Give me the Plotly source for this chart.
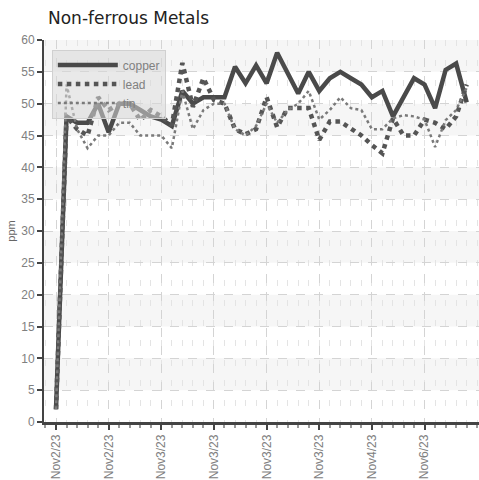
import plotly.graph_objects as go

# ---- data ----
x_index = list(range(40))
copper = [2, 48, 47, 47, 50, 45.5, 50, 50, 49, 48, 47.5, 46.5, 52, 50, 51, 51, 51, 55.8, 53.2, 56,
          53.2, 58, 54.8, 51.6, 55, 52, 54, 55, 54, 53, 51, 52, 48, 51, 54, 53, 49.3, 55.3, 56.3, 50.2]
lead = [2, 48, 46, 45, 51, 49, 50, 50, 47.4, 49, 48, 46.6, 56.4, 49.5, 54, 50.6, 50, 46, 45.2, 46,
        51, 46.3, 49.3, 49.3, 49.3, 44.3, 47.2, 47.2, 46, 45, 43.5, 42.2, 47.7, 45, 45, 47.5, 47, 46, 48, 53]
tin = [2, 53, 46, 43, 45, 45, 47, 47, 45, 45, 45, 43, 52, 46, 49, 50, 50, 46, 45, 46.5,
       50, 47, 49, 50, 52, 47.5, 49, 51, 49.3, 49, 46, 46, 47.7, 48.2, 48, 47.5, 43.2, 47.4, 49, 52.5]
tick_pos = [0, 5, 10, 15, 20, 25, 30, 35]
tick_labels = ["Nov2/23", "Nov2/23", "Nov3/23", "Nov3/23", "Nov3/23", "Nov3/23", "Nov4/23", "Nov6/23"]
y_ticks = list(range(0, 61, 5))

narrow = "Liberation Sans Narrow, Liberation Sans, Arial, sans-serif"
tick_font = dict(family=narrow, size=12, color="#808080")

fig = go.Figure()
fig.add_trace(go.Scatter(x=x_index, y=copper, name="copper", mode="lines",
                         line=dict(color="#4a4a4a", width=4.5)))
fig.add_trace(go.Scatter(x=x_index, y=lead, name="lead", mode="lines",
                         line=dict(color="#555555", width=4.5, dash="dot")))
fig.add_trace(go.Scatter(x=x_index, y=tin, name="tin", mode="lines",
                         line=dict(color="#7a7a7a", width=2.5, dash="dot")))

# alternating background bands
shapes = []
for lo in y_ticks[1::2]:
    shapes.append(dict(type="rect", xref="paper", yref="y", x0=0, x1=1, y0=lo, y1=lo + 5,
                       fillcolor="#f6f6f6", line=dict(width=0), layer="below"))

fig.update_layout(
    width=479, height=480,
    margin=dict(l=44, r=0, t=40, b=58),
    paper_bgcolor="white", plot_bgcolor="white",
    shapes=shapes,
    showlegend=True,
    hovermode=False,
    title=dict(text="Non-ferrous Metals", x=48 / 479, xref="container", xanchor="left",
               y=1 - 18 / 480, yref="container", yanchor="middle",
               font=dict(family="DejaVu Sans, sans-serif", size=17, color="#222")),
    legend=dict(x=0.018, y=0.975, xanchor="left", yanchor="top",
                bgcolor="rgba(215,215,215,0.55)", bordercolor="#d0d0d0", borderwidth=1,
                font=dict(family=narrow, size=12, color="#808080"),
                itemwidth=60, tracegroupgap=0),
    xaxis=dict(range=[-1.14, 40.17], tickmode="array", tickvals=tick_pos, ticktext=tick_labels,
               tickangle=-90, tickfont=tick_font, ticks="outside", ticklen=5, tickwidth=1.5,
               tickcolor="#444",
               showline=True, linecolor="#444", linewidth=2.5,
               showgrid=True, gridcolor="#d4d4d4", griddash="dash", gridwidth=1,
               zeroline=False,
               minor=dict(dtick=1, showgrid=True, gridcolor="#e4e4e4", griddash="6px,14px",
                          gridwidth=1, ticks="outside", ticklen=3, tickcolor="#999")),
    yaxis=dict(range=[0, 60], tickmode="array", tickvals=y_ticks, tickfont=tick_font,
               ticks="outside", ticklen=5, tickwidth=1.5, tickcolor="#444",
               showline=True, linecolor="#444", linewidth=2,
               showgrid=True, gridcolor="#d4d4d4", griddash="dash", gridwidth=1,
               zeroline=False,
               title=dict(text="ppm", standoff=3,
                          font=dict(family=narrow, size=11, color="#666"))),
)

fig.write_html("out.html", config={"displayModeBar": False},
               post_script="document.body.style.margin='0';document.body.style.padding='0';")
